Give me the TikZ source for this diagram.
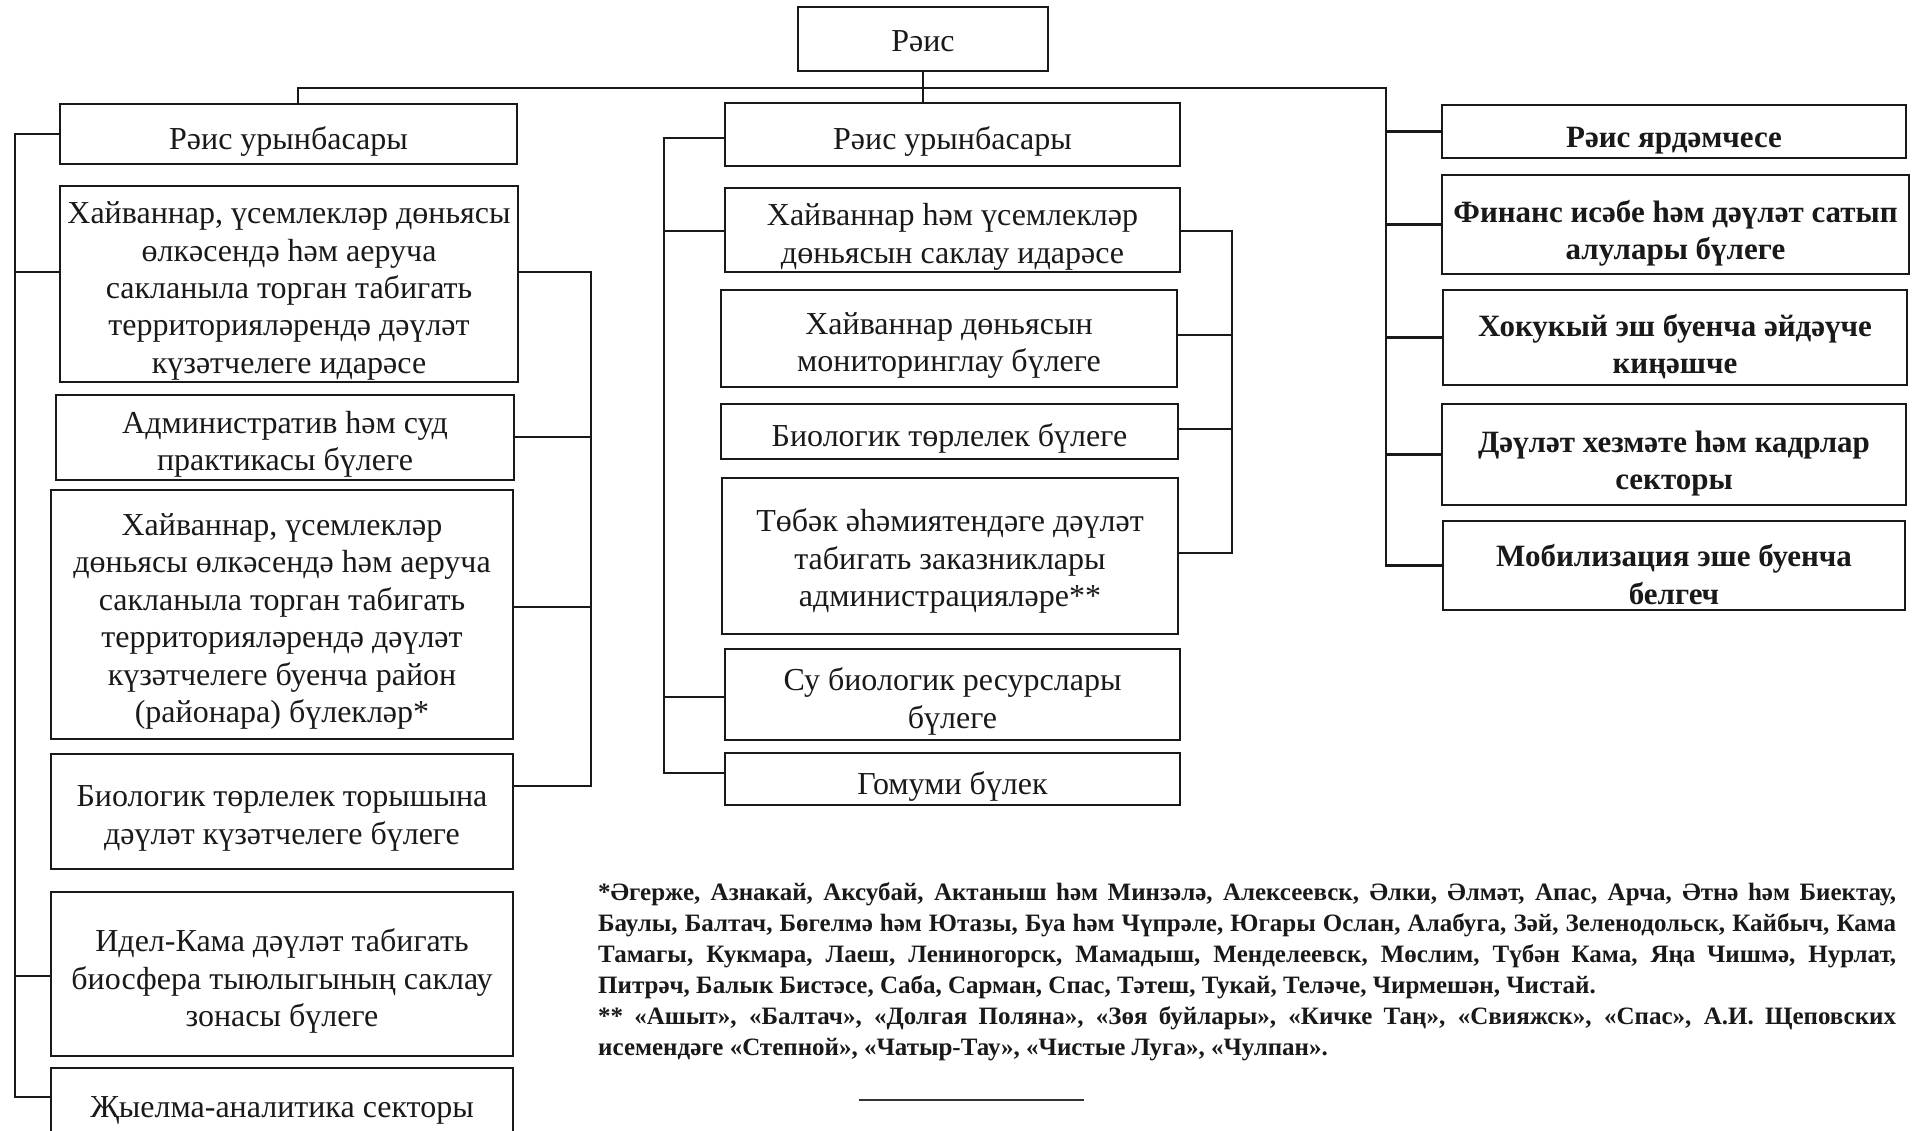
\documentclass[tikz,border=0pt]{standalone}
\usepackage{fontspec}
\setmainfont{Liberation Serif}
\newcommand\orgbox[7]{%
  \node[frame, minimum width=#4pt, minimum height=#5pt] (#1) at (#2,#3) {};
  \node[#6] (#1t) at (#1.center) {#7};}
\begin{document}
\begin{tikzpicture}[x=1pt,y=-1pt,
  frame/.style={draw=black!90, line width=2.4pt, inner sep=0pt},
  txt0/.style={inner sep=0pt, align=center, text=black!90, font=\fontsize{32}{37.4}\selectfont},
  txt/.style={txt0, yshift=-7pt},
  txtb/.style={txt0, font=\fontsize{31}{37.4}\selectfont\bfseries, yshift=-9pt},
  conn/.style={draw=black!90, line width=2.4pt}]
\useasboundingbox (0,0) rectangle (1916,1130);
% top
\orgbox{Rais}{923}{39}{250}{64}{txt0, yshift=-2pt}{Рәис}
% left column
\orgbox{L0}{288.5}{134}{457}{60}{txt}{Рәис урынбасары}
\orgbox{L1}{289}{284}{458}{196}{txt}{Хайваннар, үсемлекләр дөньясы\\өлкәсендә һәм аеруча\\сакланыла торган табигать\\территорияләрендә дәүләт\\күзәтчелеге идарәсе}
\orgbox{L2}{285}{437.5}{458}{85}{txt}{Административ һәм суд\\практикасы бүлеге}
\orgbox{L3}{282}{614.5}{462}{249}{txt}{Хайваннар, үсемлекләр\\дөньясы өлкәсендә һәм аеруча\\сакланыла торган табигать\\территорияләрендә дәүләт\\күзәтчелеге буенча район\\(районара) бүлекләр*}
\orgbox{L4}{282}{811.5}{462}{115}{txt}{Биологик төрлелек торышына\\дәүләт күзәтчелеге бүлеге}
\orgbox{L5}{282}{974}{462}{164}{txt}{Идел-Кама дәүләт табигать\\биосфера тыюлыгының саклау\\зонасы бүлеге}
\node[frame, minimum width=462pt, minimum height=82pt] (L6) at (282,1109) {};
\node[txt0, anchor=base] (L6t) at (282,1117) {Җыелма-аналитика секторы};
% center column
\orgbox{C0}{952.5}{134.5}{455}{63}{txt}{Рәис урынбасары}
\orgbox{C1}{952.5}{230}{455}{84}{txt}{Хайваннар һәм үсемлекләр\\дөньясын саклау идарәсе}
\orgbox{C2}{949}{338.5}{456}{97}{txt}{Хайваннар дөньясын\\мониторинглау бүлеге}
\orgbox{C3}{949.5}{431.5}{457}{55}{txt}{Биологик төрлелек бүлеге}
\orgbox{C4}{950}{556}{456}{156}{txt0, yshift=-5pt}{Төбәк әһәмиятендәге дәүләт\\табигать заказниклары\\администрацияләре**}
\orgbox{C5}{952.5}{694.5}{455}{91}{txt}{Су биологик ресурслары\\бүлеге}
\orgbox{C6}{952.5}{779}{455}{52}{txt}{Гомуми бүлек}
% right column
\orgbox{R0}{1674}{131.5}{464}{53}{txtb}{Рәис ярдәмчесе}
\orgbox{R1}{1675.5}{224.5}{467}{99}{txtb}{Финанс исәбе һәм дәүләт сатып\\алулары бүлеге}
\orgbox{R2}{1675}{337.5}{464}{95}{txtb}{Хокукый эш буенча әйдәүче\\киңәшче}
\orgbox{R3}{1674}{454.5}{464}{101}{txtb}{Дәүләт хезмәте һәм кадрлар\\секторы}
\orgbox{R4}{1674}{565.5}{462}{89}{txtb}{Мобилизация эше буенча\\белгеч}
% top connectors
\coordinate (tl) at (298,88);
\coordinate (tr) at (1386,88);
\draw[conn] (Rais.south) -- (Rais.south |- C0.north);
\draw[conn] (L0.north -| tl) -- (tl) -- (tr) |- (R4.west);
\draw[conn] (R0.west) -- (R0.west -| tr);
\draw[conn] (R1.west) -- (R1.west -| tr);
\draw[conn] (R2.west) -- (R2.west -| tr);
\draw[conn] (R3.west) -- (R3.west -| tr);
% left column connectors
\coordinate (ls1) at (15,272);
\coordinate (ls5) at (15,976);
\coordinate (ls6) at (15,1097);
\draw[conn] (L0.west) -| (ls6) -- (ls6 -| L6.west);
\draw[conn] (ls1) -- (ls1 -| L1.west);
\draw[conn] (ls5) -- (ls5 -| L5.west);
\coordinate (lb1) at (591,272);
\coordinate (lb2) at (591,437);
\coordinate (lb3) at (591,607);
\coordinate (lb4) at (591,786);
\draw[conn] (lb1 -| L1.east) -- (lb1) -- (lb4) -- (lb4 -| L4.east);
\draw[conn] (lb2) -- (lb2 -| L2.east);
\draw[conn] (lb3) -- (lb3 -| L3.east);
% center column connectors
\coordinate (cs0) at (664,138);
\coordinate (cs1) at (664,231);
\coordinate (cs5) at (664,697);
\coordinate (cs6) at (664,773);
\draw[conn] (cs0 -| C0.west) -- (cs0) -- (cs6) -- (cs6 -| C6.west);
\draw[conn] (cs1) -- (cs1 -| C1.west);
\draw[conn] (cs5) -- (cs5 -| C5.west);
\coordinate (cb1) at (1232,231);
\coordinate (cb2) at (1232,335);
\coordinate (cb3) at (1232,429);
\coordinate (cb4) at (1232,553);
\draw[conn] (cb1 -| C1.east) -- (cb1) -- (cb4) -- (cb4 -| C4.east);
\draw[conn] (cb2) -- (cb2 -| C2.east);
\draw[conn] (cb3) -- (cb3 -| C3.east);
% footnote
\node[anchor=base west, inner sep=0pt, text=black!90] (fn) at (598,900) {\begin{minipage}[t]{1298pt}\fontsize{25}{31}\selectfont\bfseries\noindent
\makebox[\linewidth][s]{*Әгерже, Азнакай, Аксубай, Актаныш һәм Минзәлә, Алексеевск, Әлки, Әлмәт, Апас, Арча, Әтнә һәм Биектау,}\\
\makebox[\linewidth][s]{Баулы, Балтач, Бөгелмә һәм Ютазы, Буа һәм Чүпрәле, Югары Ослан, Алабуга, Зәй, Зеленодольск, Кайбыч, Кама}\\
\makebox[\linewidth][s]{Тамагы, Кукмара, Лаеш, Лениногорск, Мамадыш, Менделеевск, Мөслим, Түбән Кама, Яңа Чишмә, Нурлат,}\\
Питрәч, Балык Бистәсе, Саба, Сарман, Спас, Тәтеш, Тукай, Теләче, Чирмешән, Чистай.\\
\makebox[\linewidth][s]{** «Ашыт», «Балтач», «Долгая Поляна», «Зөя буйлары», «Кичке Таң», «Свияжск», «Спас», А.И. Щеповских}\\
исемендәге «Степной», «Чатыр-Тау», «Чистые Луга», «Чулпан».
\end{minipage}};
\coordinate (rl) at (859,1100);
\coordinate (rr) at (1084,1100);
\draw[draw=black!80, line width=1.3pt] (rl) -- (rr);
\end{tikzpicture}
\end{document}
